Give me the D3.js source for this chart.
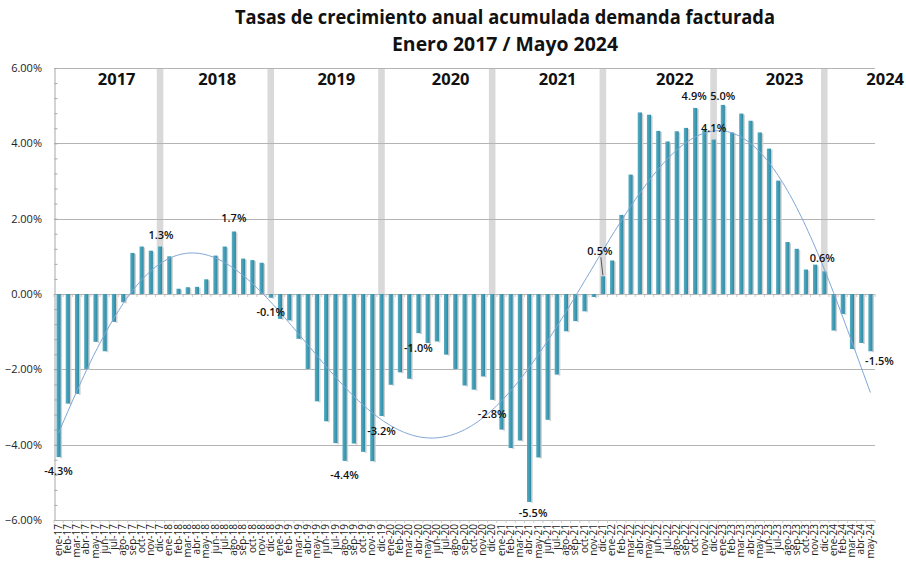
<!DOCTYPE html>
<html>
<head>
<meta charset="utf-8">
<script src="https://cdn.jsdelivr.net/npm/d3@7"></script>
<style>
  body { margin: 0; background: #fff; }
  svg { display: block; font-family: "Open Sans", "Liberation Sans", sans-serif; }
  .grid { stroke: #b4b4b4; stroke-width: 1; shape-rendering: crispEdges; }
  .tick-y { font-size: 11px; fill: #222; }
  .tick-x { font-size: 10px; fill: #222; }
  .year { font-size: 16.5px; font-weight: 700; fill: #111; }
  .dlabel { font-size: 11px; fill: #111; font-weight: 600; }
  .title { font-size: 19px; font-weight: 700; fill: #111; }
</style>
</head>
<body>
<div id="chart"></div>
<script>
  'use strict';

  // month labels, ene-17 .. may-24
  var monthNames = [ 'ene', 'feb', 'mar', 'abr', 'may', 'jun',
    'jul', 'ago', 'sep', 'oct', 'nov', 'dic' ];
  var years = [ '17', '18', '19', '20', '21', '22', '23', '24' ];

  var months = [];
  years.forEach(function( y ) {
    monthNames.forEach(function( m ) {
      if ( months.length < 89 ) { months.push( m + '-' + y ); }
    });
  });

  // accumulated annual growth rate, %
  var rate = [
    -4.33, -2.91, -2.65, -1.99, -1.27, -1.52, -0.74, -0.22, 1.09, 1.26, 1.15, 1.26,
    1.00, 0.14, 0.18, 0.19, 0.39, 1.02, 1.26, 1.66, 0.94, 0.90, 0.83, -0.10,
    -0.66, -0.70, -1.19, -1.99, -2.85, -3.38, -3.96, -4.43, -3.97, -4.19, -4.44, -3.24,
    -2.41, -2.08, -2.25, -1.04, -1.30, -1.26, -1.61, -1.99, -2.43, -2.54, -2.19, -2.81,
    -3.60, -4.09, -3.89, -5.52, -4.34, -3.34, -2.14, -0.99, -0.72, -0.46, -0.08, 0.47,
    0.89, 2.10, 3.17, 4.82, 4.76, 4.33, 4.05, 4.32, 4.41, 4.94, 4.36, 4.10,
    5.02, 4.29, 4.79, 4.60, 4.29, 3.86, 3.01, 1.38, 1.20, 0.65, 0.78, 0.60,
    -0.97, -0.53, -1.46, -1.30, -1.52
  ];

  var yTicks = [ -6, -4, -2, 0, 2, 4, 6 ];

  // year captions and the month index they sit over
  var yearNames = [ '2017', '2018', '2019', '2020', '2021', '2022', '2023', '2024' ];
  var yearAt = [ 6.3, 17.2, 30.1, 42.5, 54.1, 66.8, 78.7, 89.6 ];

  // grey separators at december
  var separators = [ 'dic-17', 'dic-18', 'dic-19', 'dic-20', 'dic-21', 'dic-22', 'dic-23' ];

  // labelled bars: month index and [dx, dy] from bar end
  var labelled = [ 0, 11, 19, 23, 31, 35, 39, 47, 51, 59, 69, 71, 72, 83, 88 ];
  var labelOffset = [
    [ 0, 18 ], [ 1, -8 ], [ 0, -9 ], [ 0, 18 ], [ 0, 18 ], [ 0, 19 ], [ 0, 19 ],
    [ 0, 18 ], [ 4, 15 ], [ -3, -21 ], [ -1, -8 ], [ 0, -8 ], [ 0, -5 ], [ -2, -9 ], [ 9, 14 ]
  ];

  (function() {
    var width = 906,
      height = 566,
      plotLeft = 54,
      plotRight = 875,
      plotTop = 68,
      plotBottom = 520;

    var svg = d3.select( '#chart' )
      .append( 'svg' )
      .attr( 'width', width )
      .attr( 'height', height );

    var x = d3.scaleBand()
      .domain( months )
      .range([ plotLeft, plotRight ])
      .paddingInner( 0.55 )
      .paddingOuter( 0.27 );

    var y = d3.scaleLinear()
      .domain([ -6, 6 ])
      .range([ plotBottom, plotTop ]);

    var step = x.step();
    var xc = function( i ) {
      return x( months[0] ) + x.bandwidth() / 2 + i * step;
    };

    var defs = svg.append( 'defs' );
    var grad = defs.append( 'linearGradient' )
      .attr( 'id', 'barGrad' )
      .attr( 'x1', '0' ).attr( 'x2', '1' )
      .attr( 'y1', '0' ).attr( 'y2', '0' );
    grad.append( 'stop' ).attr( 'offset', '0%' ).attr( 'stop-color', '#56aec4' );
    grad.append( 'stop' ).attr( 'offset', '55%' ).attr( 'stop-color', '#3e9ab3' );
    grad.append( 'stop' ).attr( 'offset', '100%' ).attr( 'stop-color', '#2f87a1' );

    // title
    svg.append( 'text' )
      .attr( 'class', 'title' )
      .attr( 'x', 505 ).attr( 'y', 24 )
      .attr( 'text-anchor', 'middle' )
      .attr( 'textLength', 540 )
      .attr( 'lengthAdjust', 'spacingAndGlyphs' )
      .text( 'Tasas de crecimiento anual acumulada demanda facturada' );

    svg.append( 'text' )
      .attr( 'class', 'title' )
      .attr( 'x', 505 ).attr( 'y', 51 )
      .attr( 'text-anchor', 'middle' )
      .attr( 'textLength', 226 )
      .attr( 'lengthAdjust', 'spacingAndGlyphs' )
      .text( 'Enero 2017 / Mayo 2024' );

    // separators behind everything
    svg.selectAll( '.sep' )
      .data( separators )
      .enter().append( 'rect' )
      .attr( 'class', 'sep' )
      .attr( 'x', function( d ) { return x( d ) + x.bandwidth() / 2 - 3.3; })
      .attr( 'width', 6.6 )
      .attr( 'y', y( 6 ) )
      .attr( 'height', y( 0 ) - y( 6 ) )
      .attr( 'fill', '#d9d9d9' );

    // gridlines
    svg.selectAll( '.grid' )
      .data( yTicks )
      .enter().append( 'line' )
      .attr( 'class', 'grid' )
      .attr( 'x1', plotLeft )
      .attr( 'x2', plotRight )
      .attr( 'y1', function( d ) { return Math.round( y( d ) ) + 0.5; })
      .attr( 'y2', function( d ) { return Math.round( y( d ) ) + 0.5; });

    // y axis with minor ticks
    var yAxis = d3.axisLeft( y )
      .tickValues( d3.range( -6, 6.01, 0.4 ) )
      .tickSize( -3 )
      .tickFormat( '' );

    var yg = svg.append( 'g' )
      .attr( 'transform', 'translate(' + ( plotLeft + 0.5 ) + ',0)' )
      .call( yAxis );
    yg.select( '.domain' ).attr( 'stroke', '#a8a8a8' );
    yg.selectAll( '.tick line' ).attr( 'stroke', '#a8a8a8' );

    svg.selectAll( '.tick-y' )
      .data( yTicks )
      .enter().append( 'text' )
      .attr( 'class', 'tick-y' )
      .attr( 'x', 42 )
      .attr( 'y', function( d ) { return y( d ) + 4; })
      .attr( 'text-anchor', 'end' )
      .text( function( d ) { return d3.format( '.2f' )( d ) + '%'; });

    // x axis along the bottom, labels rotated
    var xAxis = d3.axisBottom( x )
      .tickSize( 0 )
      .tickPadding( 0 );

    var xg = svg.append( 'g' )
      .attr( 'transform', 'translate(0,' + plotBottom + ')' )
      .call( xAxis );
    xg.attr( 'font-size', null ).attr( 'font-family', null );
    xg.select( '.domain' ).remove();
    xg.selectAll( 'text' )
      .attr( 'class', 'tick-x' )
      .attr( 'fill', null )
      .attr( 'transform', 'rotate(-90)' )
      .attr( 'text-anchor', 'end' )
      .attr( 'x', -4 )
      .attr( 'y', 0 )
      .attr( 'dy', '0.32em' );

    // category ticks on the zero line and the bottom line
    [ 0, -6 ].forEach(function( v ) {
      svg.append( 'g' )
        .selectAll( 'line' )
        .data( d3.range( months.length + 1 ) )
        .enter().append( 'line' )
        .attr( 'x1', function( i ) { return plotLeft + i * step; })
        .attr( 'x2', function( i ) { return plotLeft + i * step; })
        .attr( 'y1', y( v ) )
        .attr( 'y2', y( v ) + 3 )
        .attr( 'stroke', '#bcbcbc' )
        .attr( 'stroke-width', 0.8 );
    });

    // bar shadows
    svg.selectAll( '.shadow' )
      .data( rate )
      .enter().append( 'rect' )
      .attr( 'class', 'shadow' )
      .attr( 'x', function( d, i ) { return x( months[i] ) + x.bandwidth() - 0.3; })
      .attr( 'width', 1.8 )
      .attr( 'y', function( d ) { return Math.min( y( d ), y( 0 ) ) + 1; })
      .attr( 'height', function( d ) { return Math.abs( y( d ) - y( 0 ) ); })
      .attr( 'fill', '#cfcfcf' );

    // bars
    svg.selectAll( '.bar' )
      .data( rate )
      .enter().append( 'rect' )
      .attr( 'class', 'bar' )
      .attr( 'x', function( d, i ) { return x( months[i] ); })
      .attr( 'width', x.bandwidth() )
      .attr( 'y', function( d ) { return Math.min( y( d ), y( 0 ) ); })
      .attr( 'height', function( d ) { return Math.abs( y( d ) - y( 0 ) ); })
      .attr( 'fill', 'url(#barGrad)' );

    // polynomial trendline (order 6, least squares on the series)
    function polyFit( xs, ys, order ) {
      var n = order + 1,
        A = [],
        r, c, k;

      for ( r = 0; r < n; r++ ) {
        A.push( new Array( n + 1 ).fill( 0 ) );
      }
      xs.forEach(function( xv, idx ) {
        for ( r = 0; r < n; r++ ) {
          for ( c = 0; c < n; c++ ) { A[r][c] += Math.pow( xv, r + c ); }
          A[r][n] += ys[idx] * Math.pow( xv, r );
        }
      });
      for ( c = 0; c < n; c++ ) {
        var p = c;
        for ( r = c + 1; r < n; r++ ) {
          if ( Math.abs( A[r][c] ) > Math.abs( A[p][c] ) ) { p = r; }
        }
        var tmp = A[c]; A[c] = A[p]; A[p] = tmp;
        for ( r = c + 1; r < n; r++ ) {
          var f = A[r][c] / A[c][c];
          for ( k = c; k <= n; k++ ) { A[r][k] -= f * A[c][k]; }
        }
      }
      var coef = new Array( n ).fill( 0 );
      for ( r = n - 1; r >= 0; r-- ) {
        var s = A[r][n];
        for ( k = r + 1; k < n; k++ ) { s -= A[r][k] * coef[k]; }
        coef[r] = s / A[r][r];
      }
      return coef;
    }

    var mid = ( rate.length - 1 ) / 2;
    var ts = rate.map(function( d, i ) { return ( i - mid ) / mid; });
    var coef = polyFit( ts, rate, 6 );
    var evalPoly = function( t ) {
      return coef.reduce(function( acc, c, k ) { return acc + c * Math.pow( t, k ); }, 0 );
    };

    var trend = d3.range( 0, rate.length - 1 + 0.001, 0.25 ).map(function( i ) {
      return [ xc( i ), y( evalPoly( ( i - mid ) / mid ) ) ];
    });

    svg.append( 'path' )
      .datum( trend )
      .attr( 'fill', 'none' )
      .attr( 'stroke', '#7fa6d6' )
      .attr( 'stroke-width', 1 )
      .attr( 'd', d3.line() );

    // year captions
    svg.selectAll( '.year' )
      .data( yearNames )
      .enter().append( 'text' )
      .attr( 'class', 'year' )
      .attr( 'x', function( d, i ) { return xc( yearAt[i] ); })
      .attr( 'y', 85 )
      .attr( 'text-anchor', 'middle' )
      .text( function( d ) { return d; });

    // data labels
    labelled.forEach(function( i, k ) {
      var v = rate[i],
        off = labelOffset[k];

      svg.append( 'text' )
        .attr( 'class', 'dlabel' )
        .attr( 'x', xc( i ) + off[0] )
        .attr( 'y', y( v ) + off[1] )
        .attr( 'text-anchor', 'middle' )
        .text( v.toFixed( 1 ) + '%' );
    });

    // leader line for the dic-21 label
    svg.append( 'line' )
      .attr( 'x1', xc( 59 ) - 2 )
      .attr( 'y1', y( rate[59] ) - 19 )
      .attr( 'x2', xc( 59 ) )
      .attr( 'y2', y( rate[59] ) - 1 )
      .attr( 'stroke', '#333' )
      .attr( 'stroke-width', 0.8 );
  })();
</script>
</body>
</html>
